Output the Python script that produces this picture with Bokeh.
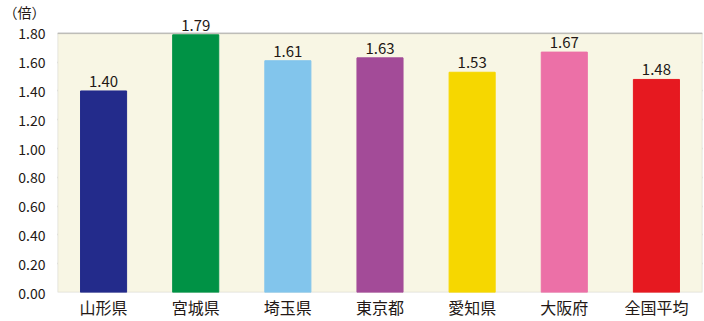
from bokeh.plotting import figure
from bokeh.models import (ColumnDataSource, Range1d, FixedTicker, LabelSet,
                          BoxAnnotation, CustomJSTickFormatter)
from bokeh.core.properties import value
from bokeh.embed import file_html
from bokeh.resources import INLINE

# Prefecture labels and ratio values
prefectures = ["山形県", "宮城県", "埼玉県", "東京都", "愛知県", "大阪府", "全国平均"]
ratios = [1.40, 1.79, 1.61, 1.63, 1.53, 1.67, 1.48]
bar_colors = ["#232B8B", "#009245", "#82C5EC", "#A34B98", "#F6D700", "#EC70A7", "#E61920"]
y_ticks = [0.0, 0.2, 0.4, 0.6, 0.8, 1.0, 1.2, 1.4, 1.6, 1.8]
y_max = 1.8
unit_caption = "（倍）"
caption_level = 1.95   # where the unit caption sits on the value axis

FONT = "Noto Sans CJK JP"
TEXT_COLOR = "#231815"
GRID = "#A0A0A0"

source = ColumnDataSource(dict(
    cat=prefectures,
    val=ratios,
    color=bar_colors,
    label=[f"{v:.2f}" for v in ratios],
))

# The frame reaches the top of the canvas so the value labels above the
# tallest bar stay visible; the shaded chart area stops at y_max.
p = figure(
    x_range=prefectures,
    y_range=Range1d(0, y_max * 293 / 260),
    width=704, height=321,
    output_backend="svg",
    toolbar_location=None,
    min_border_left=56, min_border_right=2,
    min_border_top=0, min_border_bottom=28,
)
p.background_fill_color = "white"
p.border_fill_color = "white"
p.outline_line_color = None

p.add_layout(BoxAnnotation(bottom=0, top=y_max, fill_color="#F8F6E4", fill_alpha=1.0,
                           line_color=GRID, line_width=1.5, level="underlay"))

p.vbar(x="cat", top="val", width=0.5, source=source,
       fill_color="color", line_color="color")

labels = LabelSet(x="cat", y="val", text="label", source=source,
                  text_align="center", text_baseline="bottom", y_offset=4,
                  text_font=value(FONT), text_font_size="15px", text_color=TEXT_COLOR)
p.add_layout(labels)

p.xgrid.grid_line_color = None
p.ygrid.grid_line_color = GRID
p.ygrid.grid_line_width = 1.5
p.ygrid.ticker = FixedTicker(ticks=y_ticks)

# value axis: numeric ticks plus the unit caption above them
p.yaxis.ticker = FixedTicker(ticks=y_ticks + [caption_level])
p.yaxis.formatter = CustomJSTickFormatter(
    args=dict(cap=unit_caption, top=y_max),
    code="return tick > top + 0.01 ? cap : tick.toFixed(2);",
)

for ax in (p.xaxis, p.yaxis):
    ax.axis_line_color = None
    ax.major_tick_line_color = None
    ax.minor_tick_line_color = None
    ax.major_tick_out = 0
    ax.major_tick_in = 0
    ax.minor_tick_out = 0
    ax.minor_tick_in = 0
    ax.major_label_text_font = FONT
    ax.major_label_text_color = TEXT_COLOR

p.yaxis.major_label_text_font_size = "14px"
p.xaxis.major_label_text_font_size = "16px"
p.yaxis.major_label_standoff = 12
p.xaxis.major_label_standoff = 2

open("out.html", "w").write(file_html(p, INLINE))
